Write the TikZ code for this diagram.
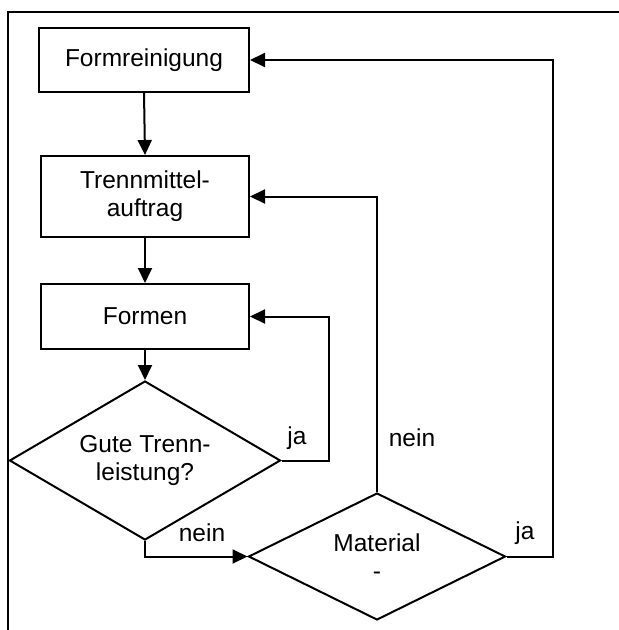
\documentclass[tikz,border=0pt]{standalone}
\usepackage{fontspec}
\setmainfont{Liberation Sans}
\usetikzlibrary{shapes.geometric,arrows.meta}
\begin{document}
\begin{tikzpicture}[x=1pt,y=-1pt,
  every node/.style={font=\fontsize{24.5}{28}\selectfont},
  proc/.style={draw,line width=2pt,rectangle,inner sep=0pt,align=center},
  dec/.style={draw,line width=2pt,diamond,inner sep=0pt,align=center,shape aspect=1.7},
  lbl/.style={inner sep=0pt},
  conn/.style={line width=2pt,-{Triangle[length=15pt,width=14pt]}},
  framestyle/.style={line width=2pt}]
\useasboundingbox (0,0) rectangle (619,630);
\draw[framestyle] (8,630) -- (8,12) -- (619,12);

\node[proc,minimum width=210pt,minimum height=64pt] (b1) at (144,60) {Formreinigung};
\node[proc,minimum width=208pt,minimum height=81pt] (b2) at (145,196.5) {Trennmittel-\\auftrag};
\node[proc,minimum width=208pt,minimum height=65pt] (b3) at (145,316.5) {Formen};
\node[dec,minimum width=271pt,minimum height=159pt] (d1) at (145,460.5) {Gute Trenn-\\leistung?};
\node[dec,minimum width=257pt,minimum height=127pt] (d2) at (377,556.5) {Material\\-};

\coordinate (c1) at (329,460.5);
\coordinate (c2) at (329,316.5);
\coordinate (c3) at (145,556.5);
\coordinate (c4) at (377,196.5);
\coordinate (c5) at (553,556.5);
\coordinate (c6) at (553,60);

\draw[conn] (b1.south) -- (b2.north);
\draw[conn] (b2.south) -- (b3.north);
\draw[conn] (b3.south) -- (d1.north);
\draw[conn] (d1.east) -- (c1) -- (c2) -- (b3.east);
\draw[conn] (d1.south) -- (c3) -- (d2.west);
\draw[conn] (d2.north) -- (c4) -- (b2.east);
\draw[conn] (d2.east) -- (c5) -- (c6) -- (b1.east);

\node[lbl] (l1) at (297,438) {ja};
\node[lbl] (l2) at (202,533) {nein};
\node[lbl] (l3) at (412,438) {nein};
\node[lbl] (l4) at (525,533) {ja};
\end{tikzpicture}
\end{document}
